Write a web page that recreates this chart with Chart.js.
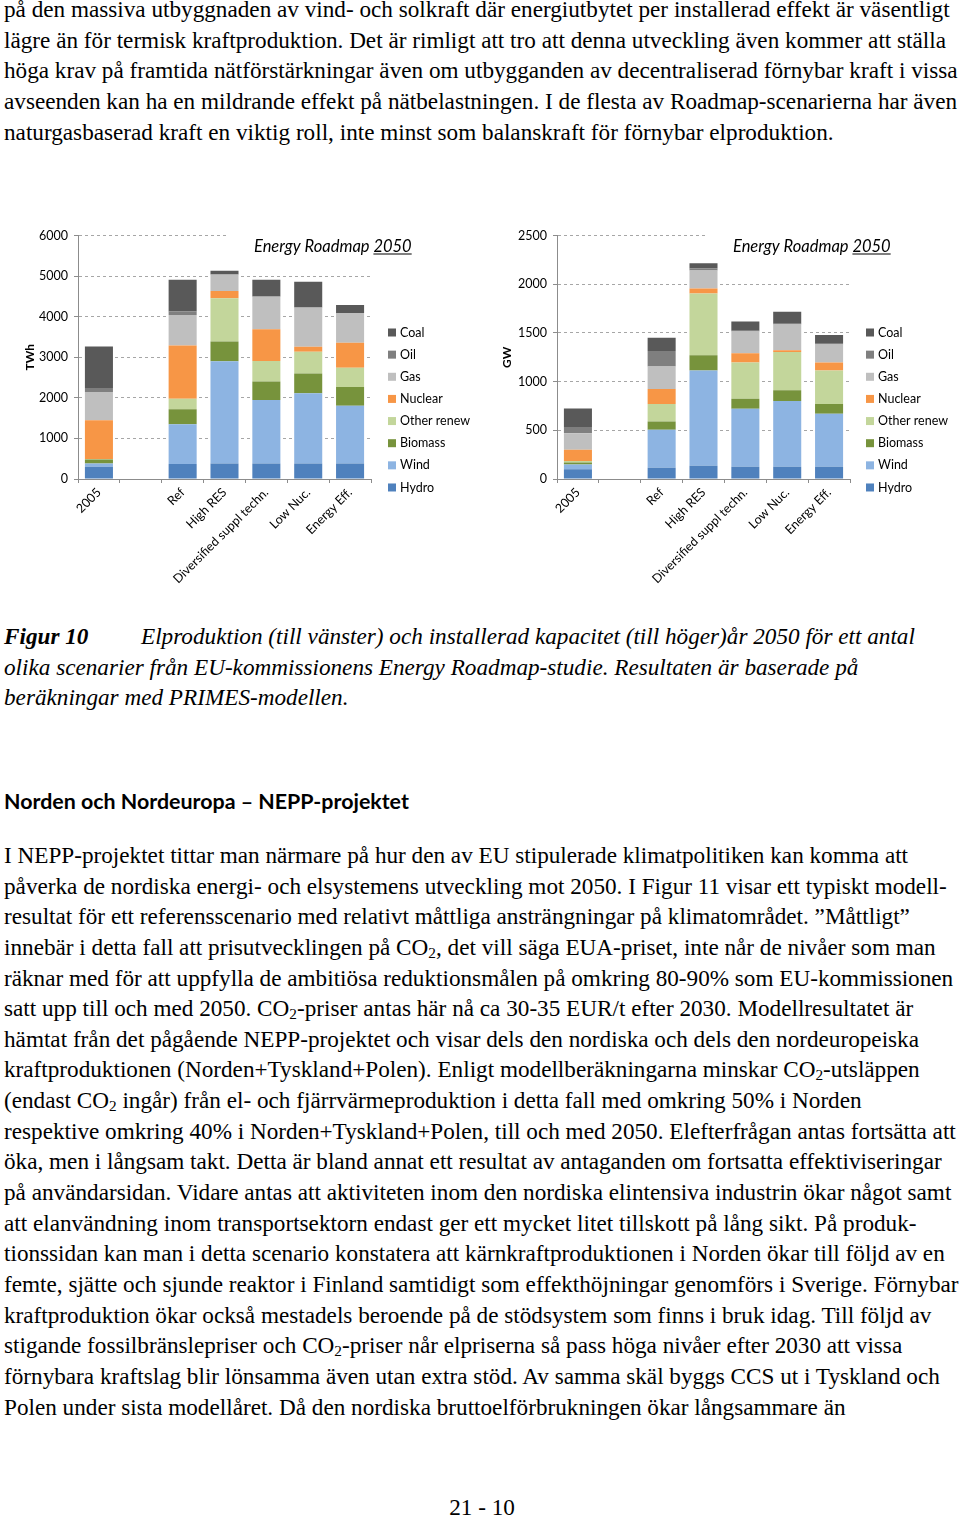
<!DOCTYPE html>
<html>
<head>
<meta charset="utf-8">
<script src="https://cdn.jsdelivr.net/npm/chart.js@4.4.1/dist/chart.umd.min.js"></script>
<style>
html, body { margin: 0; padding: 0; background: #fff; }
body { width: 960px; height: 1519px; position: relative; overflow: hidden;
  font-family: "Liberation Serif", "Times New Roman", serif; font-size: 23.2px; color: #000; }
.txt { position: absolute; left: 4px; line-height: 30.65px; white-space: nowrap; }
.txt div { height: 30.65px; }
sub { font-size: 0.66em; line-height: 0; vertical-align: -0.22em; }
.cap { font-style: italic; }
.cap b { display: inline-block; width: 137px; }
h2 { position: absolute; left: 4px; top: 788px; margin: 0; font: bold 21.4px Lato, sans-serif; }
.foot { position: absolute; top: 1494px; left: 0; width: 964px; text-align: center; }
canvas { position: absolute; }
</style>
</head>
<body>

<div class="txt" style="top:-6px">
<div>på den massiva utbyggnaden av vind- och solkraft där energiutbytet per installerad effekt är väsentligt</div>
<div>lägre än för termisk kraftproduktion. Det är rimligt att tro att denna utveckling även kommer att ställa</div>
<div>höga krav på framtida nätförstärkningar även om utbygganden av decentraliserad förnybar kraft i vissa</div>
<div>avseenden kan ha en mildrande effekt på nätbelastningen. I de flesta av Roadmap-scenarierna har även</div>
<div>naturgasbaserad kraft en viktig roll, inte minst som balanskraft för förnybar elproduktion.</div>
</div>

<canvas id="elprod" width="470" height="372" style="left:20px;top:222px"></canvas>
<canvas id="kapacitet" width="463" height="372" style="left:497px;top:222px"></canvas>

<div class="txt cap" style="top:621px">
<div><b>Figur 10</b>Elproduktion (till vänster) och installerad kapacitet (till höger)år 2050 för ett antal</div>
<div>olika scenarier från EU-kommissionens Energy Roadmap-studie. Resultaten är baserade på</div>
<div>beräkningar med PRIMES-modellen.</div>
</div>

<h2>Norden och Nordeuropa – NEPP-projektet</h2>

<div class="txt" style="top:840px">
<div>I NEPP-projektet tittar man närmare på hur den av EU stipulerade klimatpolitiken kan komma att</div>
<div>påverka de nordiska energi- och elsystemens utveckling mot 2050. I Figur 11 visar ett typiskt modell-</div>
<div>resultat för ett referensscenario med relativt måttliga ansträngningar på klimatområdet. ”Måttligt”</div>
<div>innebär i detta fall att prisutvecklingen på CO<sub>2</sub>, det vill säga EUA-priset, inte når de nivåer som man</div>
<div>räknar med för att uppfylla de ambitiösa reduktionsmålen på omkring 80-90% som EU-kommissionen</div>
<div>satt upp till och med 2050. CO<sub>2</sub>-priser antas här nå ca 30-35 EUR/t efter 2030. Modellresultatet är</div>
<div>hämtat från det pågående NEPP-projektet och visar dels den nordiska och dels den nordeuropeiska</div>
<div>kraftproduktionen (Norden+Tyskland+Polen). Enligt modellberäkningarna minskar CO<sub>2</sub>-utsläppen</div>
<div>(endast CO<sub>2</sub> ingår) från el- och fjärrvärmeproduktion i detta fall med omkring 50% i Norden</div>
<div>respektive omkring 40% i Norden+Tyskland+Polen, till och med 2050. Elefterfrågan antas fortsätta att</div>
<div>öka, men i långsam takt. Detta är bland annat ett resultat av antaganden om fortsatta effektiviseringar</div>
<div>på användarsidan. Vidare antas att aktiviteten inom den nordiska elintensiva industrin ökar något samt</div>
<div>att elanvändning inom transportsektorn endast ger ett mycket litet tillskott på lång sikt. På produk-</div>
<div>tionssidan kan man i detta scenario konstatera att kärnkraftproduktionen i Norden ökar till följd av en</div>
<div>femte, sjätte och sjunde reaktor i Finland samtidigt som effekthöjningar genomförs i Sverige. Förnybar</div>
<div>kraftproduktion ökar också mestadels beroende på de stödsystem som finns i bruk idag. Till följd av</div>
<div>stigande fossilbränslepriser och CO<sub>2</sub>-priser når elpriserna så pass höga nivåer efter 2030 att vissa</div>
<div>förnybara kraftslag blir lönsamma även utan extra stöd. Av samma skäl byggs CCS ut i Tyskland och</div>
<div>Polen under sista modellåret. Då den nordiska bruttoelförbrukningen ökar långsammare än</div>
</div>

<div class="foot">21 - 10</div>

<script>
const categories = ['2005', '', 'Ref', 'High RES', 'Diversified suppl techn.', 'Low Nuc.', 'Energy Eff.']
const sources = ['Hydro', 'Wind', 'Biomass', 'Other renew', 'Nuclear', 'Gas', 'Oil', 'Coal']
const sourceColors = ['#4f81bd', '#8db4e2', '#77933c', '#c3d69b', '#f79646', '#bfbfbf', '#7f7f7f', '#595959']

// elproduktion, TWh
const twhHydro      = [300, null, 370, 385, 385, 385, 385]
const twhWind       = [80, null, 980, 2515, 1560, 1730, 1420]
const twhBiomass    = [100, null, 370, 490, 460, 485, 465]
const twhOtherRenew = [15, null, 260, 1065, 500, 535, 470]
const twhNuclear    = [950, null, 1310, 180, 785, 125, 620]
const twhGas        = [700, null, 750, 395, 800, 960, 715]
const twhOil        = [100, null, 90, 15, 10, 10, 10]
const twhCoal       = [1020, null, 780, 85, 410, 630, 200]

// installerad kapacitet, GW
const gwHydro      = [100, null, 115, 135, 125, 125, 125]
const gwWind       = [50, null, 390, 980, 595, 675, 545]
const gwBiomass    = [20, null, 85, 155, 105, 110, 100]
const gwOtherRenew = [15, null, 180, 635, 370, 395, 345]
const gwNuclear    = [115, null, 155, 50, 95, 17, 80]
const gwGas        = [170, null, 230, 185, 225, 263, 185]
const gwOil        = [65, null, 160, 20, 8, 10, 8]
const gwCoal       = [190, null, 135, 55, 95, 123, 90]

const twhTicks = [0, 1000, 2000, 3000, 4000, 5000, 6000]
const gwTicks = [0, 500, 1000, 1500, 2000, 2500]

const fontFamily = 'Lato, "Open Sans", sans-serif'
const axisGrey = '#8c8c8c'

// titel "Energy Roadmap 2050" inne i diagrammet + legend till höger
const roadmapPlugin = {
  id: 'roadmap',
  beforeDatasetsDraw(chart, args, opts) {
    const ctx = chart.ctx
    const a = chart.chartArea
    ctx.save()
    ctx.fillStyle = '#fff'
    ctx.fillRect(a.left + opts.titleX - 26, a.top - 4, a.right - a.left - opts.titleX + 27, 24)
    ctx.font = 'italic 16.5px ' + fontFamily
    ctx.fillStyle = '#000'
    ctx.textBaseline = 'alphabetic'
    const x = a.left + opts.titleX
    const y = a.top + 16
    const first = 'Energy Roadmap '
    ctx.fillText(first, x, y)
    const x2 = x + ctx.measureText(first).width
    ctx.fillText('2050', x2, y)
    const w = ctx.measureText('2050').width
    ctx.fillRect(x2, y + 2, w, 1)
    ctx.restore()
  },
  afterDraw(chart, args, opts) {
    const ctx = chart.ctx
    const a = chart.chartArea
    const sets = chart.data.datasets
    ctx.save()
    ctx.font = '12.5px ' + fontFamily
    ctx.textBaseline = 'middle'
    for (let k = 0; k < sets.length; k++) {
      const ds = sets[sets.length - 1 - k]
      const y = a.top + 97 + k * 22.14
      ctx.fillStyle = ds.backgroundColor
      ctx.fillRect(a.right + opts.legendGap, y - 4, 8, 8)
      ctx.fillStyle = '#000'
      ctx.fillText(ds.label, a.right + opts.legendGap + 12, y)
    }
    ctx.restore()
  }
}

function makeDatasets(series) {
  return series.map((values, i) => ({
    label: sources[i],
    data: values,
    backgroundColor: sourceColors[i],
    borderWidth: 0,
    barPercentage: 0.67,
    categoryPercentage: 1
  }))
}

function renderChart(id, series, ticks, unit, yWidth, padRight, legendGap) {
  const step = ticks[1] - ticks[0]
  new Chart(document.getElementById(id), {
    type: 'bar',
    data: { labels: categories, datasets: makeDatasets(series) },
    plugins: [roadmapPlugin],
    options: {
      responsive: false,
      animation: false,
      layout: { padding: { top: 0, right: padRight, bottom: 0, left: 0 } },
      plugins: {
        legend: { display: false },
        tooltip: { enabled: false },
        roadmap: { titleX: 176, legendGap: legendGap }
      },
      scales: {
        x: {
          stacked: true,
          grid: { offset: true, drawOnChartArea: false, drawTicks: true, tickLength: 4, color: axisGrey },
          border: { color: axisGrey },
          ticks: { color: '#000', font: { family: fontFamily, size: 12.5 }, maxRotation: 45, minRotation: 45, autoSkip: false, padding: 2 },
          afterFit(s) { s.height = 115 }
        },
        y: {
          stacked: true,
          min: ticks[0],
          max: ticks[ticks.length - 1],
          ticks: {
            stepSize: step, color: '#000', font: { family: fontFamily, size: 12.5 }, padding: 6,
            callback: v => String(v)
          },
          grid: { color: '#a6a6a6', tickLength: 4, tickColor: axisGrey },
          border: { color: axisGrey, dash: [3, 3] },
          title: { display: true, text: unit, color: '#000', font: { family: fontFamily, size: 12, weight: 'bold' }, padding: { top: 3, bottom: 0 } },
          afterFit(s) { s.width = yWidth }
        }
      }
    }
  })
}

renderChart('elprod',
  [twhHydro, twhWind, twhBiomass, twhOtherRenew, twhNuclear, twhGas, twhOil, twhCoal],
  twhTicks, 'TWh', 58, 119, 17)
renderChart('kapacitet',
  [gwHydro, gwWind, gwBiomass, gwOtherRenew, gwNuclear, gwGas, gwOil, gwCoal],
  gwTicks, 'GW', 60, 110, 16)
</script>
</body>
</html>
